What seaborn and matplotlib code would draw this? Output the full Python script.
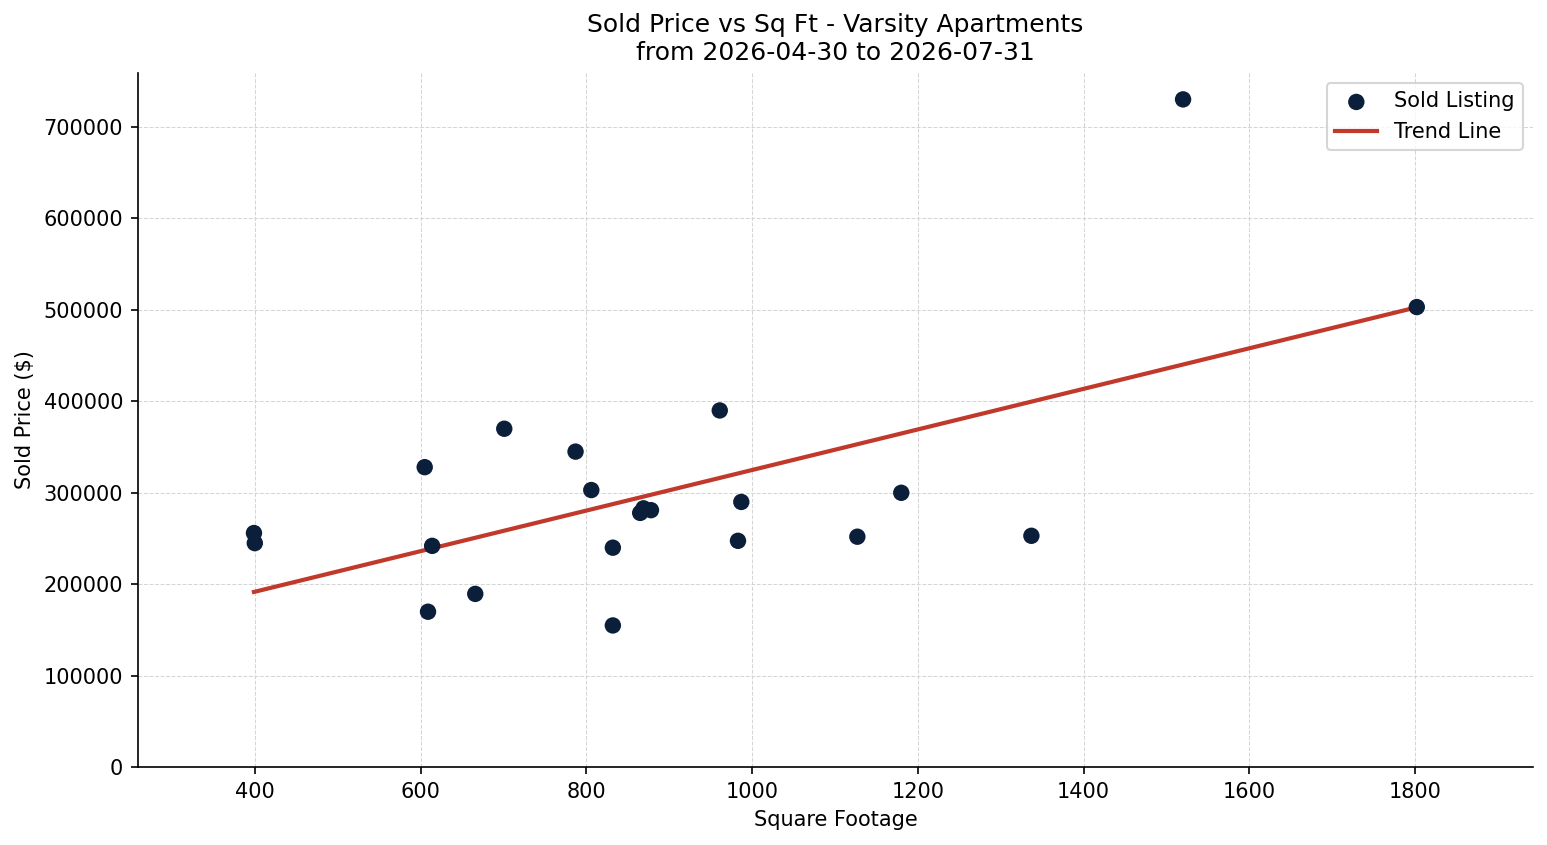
import matplotlib
matplotlib.use("Agg")
import matplotlib.pyplot as plt
import numpy as np
import pandas as pd
import seaborn as sns

sqft = [399, 400, 605, 609, 614, 666, 701, 787, 806, 832, 832,
        865, 869, 878, 961, 983, 987, 1127, 1180, 1337, 1520, 1802]
price = [256000, 245000, 328000, 170000, 242000, 189500, 370000, 345000, 303000, 240000, 155000,
         278000, 283000, 281000, 390000, 247500, 290000, 252000, 300000, 253000, 730000, 503000]

df = pd.DataFrame({"Square Footage": sqft, "Sold Price": price})

plt.rcParams["font.family"] = ["DejaVu Sans"]

fig, ax = plt.subplots(figsize=(1547 / 150, 845 / 150), dpi=150)

sns.scatterplot(data=df, x="Square Footage", y="Sold Price", ax=ax, s=62,
                color="#0b1f3a", edgecolor="none", label="Sold Listing", zorder=3)

# linear trend across the observed range
slope, intercept = np.polyfit(df["Square Footage"], df["Sold Price"], 1)
xs = np.array([df["Square Footage"].min(), df["Square Footage"].max()])
ax.plot(xs, slope * xs + intercept, color="#c0392b", linewidth=2, label="Trend Line", zorder=2)

span = xs[1] - xs[0]
ax.set_xlim(xs[0] - 0.1 * span, xs[1] + 0.1 * span)
ax.set_ylim(0, df["Sold Price"].max() * 1.04)

ax.grid(True, linestyle="--", linewidth=0.5, color="#d5d5d5")
ax.set_axisbelow(True)
sns.despine(ax=ax)

ax.set_title("Sold Price vs Sq Ft - Varsity Apartments\nfrom 2026-04-30 to 2026-07-31", fontsize=12)
ax.set_xlabel("Square Footage", fontsize=10)
ax.set_ylabel("Sold Price ($)", fontsize=10)
ax.tick_params(labelsize=10)
ax.ticklabel_format(axis="y", style="plain")
ax.legend(loc="upper right", fontsize=10)

fig.subplots_adjust(left=0.089, right=0.991, top=0.914, bottom=0.092)
plt.savefig("out.png")
